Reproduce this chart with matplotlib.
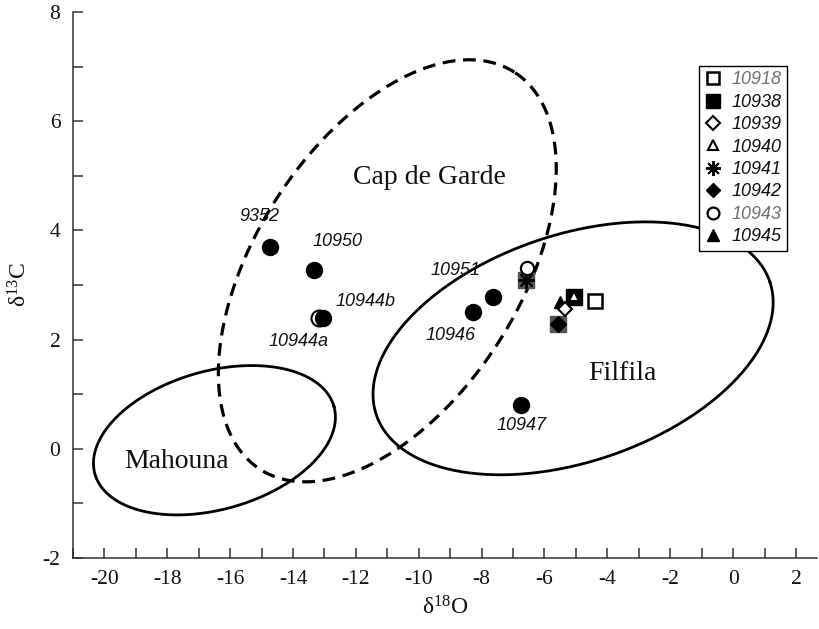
import numpy as np
import matplotlib
matplotlib.use('Agg')
import matplotlib.pyplot as plt
from matplotlib.ticker import MultipleLocator

plt.rcParams['font.family'] = ['Liberation Serif', 'DejaVu Serif']
plt.rcParams['mathtext.default'] = 'regular'
plt.rcParams['axes.unicode_minus'] = False

# ---------------- data ----------------
# directly labelled samples (filled circles)
circ_names = ['9352', '10950', '10944b', '10951', '10946', '10947']
circ_x = [-14.72, -13.32, -13.05, -7.65, -8.26, -6.74]
circ_y = [3.69, 3.28, 2.39, 2.78, 2.50, 0.80]
# open circle sample
open_name = '10944a'
open_x = [-13.18]
open_y = [2.39]

# legend series
ser_names = ['10918', '10938', '10939', '10940', '10941', '10942', '10943', '10945']
ser_x = {'10918': [-4.39], '10938': [-5.06], '10939': [-5.34], '10940': [-5.06],
         '10941': [-6.59], '10942': [-5.57], '10943': [-6.56], '10945': [-5.50]}
ser_y = {'10918': [2.70], '10938': [2.78], '10939': [2.56], '10940': [2.80],
         '10941': [3.09], '10942': [2.29], '10943': [3.31], '10945': [2.69]}
# overlapping (shaded) squares under 10941 / 10942
shade_x = [-6.59, -5.57]
shade_y = [3.09, 2.29]

# region outlines
reg_names = ['Cap de Garde', 'Filfila', 'Mahouna']
reg_cx = [-11.0, -5.09, -16.50]
reg_cy = [3.26, 1.84, 0.157]

x_lim = (-21, 2.67)
y_lim = (-2, 8)
x_ticks = list(range(-20, 3, 2))
y_ticks = list(range(-2, 9, 2))

# ---------------- figure ----------------
fig = plt.figure(figsize=(8.19, 6.29), dpi=100)
ax = fig.add_axes([73 / 819, 1 - 558 / 629, (817 - 73) / 819, (558 - 12) / 629])
ax.set_xlim(*x_lim)
ax.set_ylim(*y_lim)
ax.set_xticks(x_ticks)
ax.set_yticks(y_ticks)
ax.xaxis.set_minor_locator(MultipleLocator(1))
ax.yaxis.set_minor_locator(MultipleLocator(1))
ax.tick_params(which='both', direction='in', length=7, width=1.1, color='#333333')
ax.tick_params(which='major', labelsize=15.5, pad=9, labelcolor='#111111')
for s in ax.spines.values():
    s.set_linewidth(1.1)
    s.set_color('#333333')
ax.spines['top'].set_visible(False)
ax.spines['right'].set_visible(False)

ax.set_xlabel('δ$^{18}$O', fontsize=17, labelpad=5, color='#111111')
ax.set_ylabel('δ$^{13}$C', fontsize=17, labelpad=8, color='#111111')

# ---- region ellipses (drawn in display space, mapped back to data) ----
ell_specs = [
    dict(a=235.8, b=132.2, ang=57.4, ls=(0, (4.0, 2.4)), lw=2.3),
    dict(a=207.7, b=113.5, ang=18.7, ls='-', lw=2.0),
    dict(a=124.2, b=69.2, ang=15.8, ls='-', lw=2.0),
]
fig.canvas.draw()
t = np.linspace(0, 2 * np.pi, 400)
for cx, cy, sp in zip(reg_cx, reg_cy, ell_specs):
    c = ax.transData.transform((cx, cy))
    th = np.deg2rad(sp['ang'])
    dx = sp['a'] * np.cos(t) * np.cos(th) - sp['b'] * np.sin(t) * np.sin(th)
    dy = sp['a'] * np.cos(t) * np.sin(th) + sp['b'] * np.sin(t) * np.cos(th)
    pts = ax.transData.inverted().transform(np.column_stack([c[0] + dx, c[1] + dy]))
    ax.plot(pts[:, 0], pts[:, 1], color='black', lw=sp['lw'], ls=sp['ls'], zorder=2)

# region names
reg_text_pos = {'Cap de Garde': (429, 177), 'Filfila': (622, 373), 'Mahouna': (177, 461)}
for name in reg_names:
    px, py = reg_text_pos[name]
    ax.text(px / 819, 1 - py / 629, name, transform=fig.transFigure, fontsize=20,
            ha='center', va='center', color='#111111')

# ---- points ----
ax.plot(open_x, open_y, 'o', ms=11.5, mfc='white', mec='black', mew=1.5, zorder=4)
ax.plot(circ_x, circ_y, 'o', ms=11.5, mfc='black', mec='black', zorder=5)

lab_off = {'9352': (-11, 31), '10950': (23, 28), '10944b': (43, 17), '10951': (-37, 27),
           '10946': (-23, -23), '10947': (0, -20)}
for n, x, y in zip(circ_names, circ_x, circ_y):
    ox, oy = lab_off[n]
    ax.annotate(n, (x, y), xytext=(ox * 0.72, oy * 0.72), textcoords='offset points',
                ha='center', va='center', fontsize=13, style='italic',
                family=['Liberation Sans', 'DejaVu Sans'], color='#111111')
ax.annotate(open_name, (open_x[0], open_y[0]), xytext=(-20 * 0.72, -23 * 0.72),
            textcoords='offset points', ha='center', va='center', fontsize=13,
            style='italic', family=['Liberation Sans', 'DejaVu Sans'], color='#111111')

ax.plot(shade_x, shade_y, 's', ms=11, mfc='#555555', mec='#555555', zorder=5)

styles = {
    '10918': dict(marker='s', ms=10, mfc='white', mec='black', mew=1.8),
    '10938': dict(marker='s', ms=11, mfc='black', mec='black', mew=1),
    '10939': dict(marker='D', ms=7.5, mfc='white', mec='black', mew=1.5),
    '10940': dict(marker='^', ms=7.5, mfc='white', mec='black', mew=1.5),
    '10941': dict(marker=(8, 2, 0), ms=12, mfc='black', mec='black', mew=1.4),
    '10942': dict(marker='D', ms=8, mfc='black', mec='black', mew=1),
    '10943': dict(marker='o', ms=9.5, mfc='white', mec='black', mew=1.6),
    '10945': dict(marker='^', ms=9, mfc='black', mec='black', mew=1),
}
order = ['10938', '10940', '10918', '10945', '10939', '10942', '10941', '10943']
handles = {}
for n in order:
    h, = ax.plot(ser_x[n], ser_y[n], ls='none', label=n, zorder=6, **styles[n])
    handles[n] = h

leg = ax.legend([handles[n] for n in ser_names], ser_names, loc='upper left',
                bbox_to_anchor=(699 / 819, 1 - 66 / 629), bbox_transform=fig.transFigure,
                borderaxespad=0, borderpad=0.3, handlelength=1.0, handletextpad=0.5,
                labelspacing=0.30, fancybox=False, framealpha=1, edgecolor='black',
                markerscale=0.9,
                prop=dict(family='Liberation Sans', style='italic', size=13))
leg.get_frame().set_linewidth(1.0)
for txt in leg.get_texts():
    if txt.get_text() in ('10918', '10943'):
        txt.set_color('#707070')
    else:
        txt.set_color('#111111')

fig.savefig('out.png', dpi=100)
